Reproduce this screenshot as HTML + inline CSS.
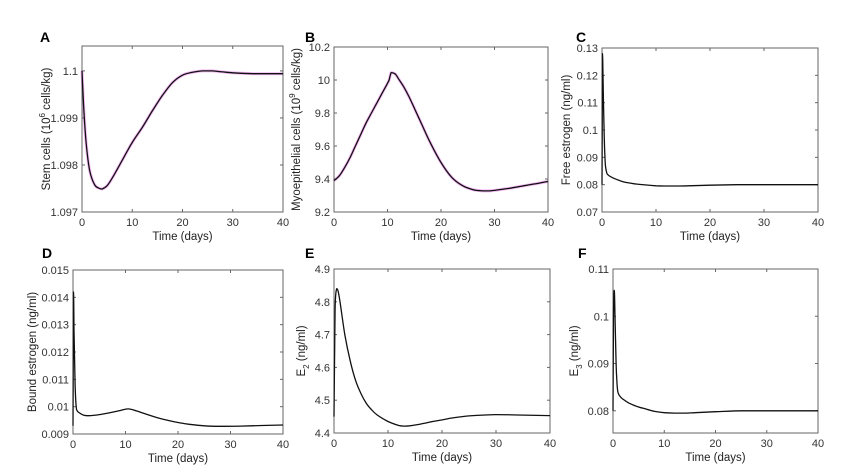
<!DOCTYPE html>
<html><head><meta charset="utf-8">
<style>
body{margin:0;background:#fff;}
svg{display:block;font-family:"Liberation Sans",Arial,sans-serif;}
.tick{font-size:11px;fill:#333;}
.lab{font-size:11.5px;fill:#222;}
.let{font-size:14px;font-weight:bold;fill:#000;}
</style></head>
<body>
<svg id="fig" width="850" height="475" viewBox="0 0 850 475"></svg>
<script>
// ---- data ----
const timeTicks = [0,10,20,30,40];
const aTime = [0,0.3,0.8,1.5,2.5,3.5,4,5,6,8,10,12,14,16,18,20,22,24,26,28,30,34,40];
const aStem = [1.1,1.0993,1.0985,1.0979,1.09758,1.0975,1.09749,1.09756,1.09772,1.0981,1.09848,1.0988,1.09915,1.09948,1.09975,1.09991,1.09997,1.1,1.1,1.09998,1.09996,1.09994,1.09994];
const aTicks = [1.097,1.098,1.099,1.1];
const bTime = [0,1,2,3,4,5,6,7,8,9,10,10.3,10.7,11.5,12,13,14,15,16,18,20,22,24,26,28,29,30,32,34,36,38,40];
const bMyo = [9.39,9.42,9.47,9.53,9.6,9.67,9.74,9.8,9.86,9.92,9.98,10.0,10.045,10.035,10.01,9.96,9.9,9.83,9.76,9.62,9.5,9.41,9.36,9.335,9.328,9.328,9.331,9.34,9.35,9.362,9.373,9.385];
const bTicks = [9.2,9.4,9.6,9.8,10,10.2];
const cTime = [0,0.1,0.2,0.4,0.6,0.8,1,2,3,4,6,8,10,12,14,16,20,25,30,40];
const cFree = [0.08,0.128,0.118,0.098,0.088,0.085,0.0838,0.0825,0.0817,0.081,0.0803,0.0799,0.0796,0.0795,0.0795,0.0796,0.0798,0.08,0.08,0.08];
const cTicks = [0.07,0.08,0.09,0.1,0.11,0.12,0.13];
const dTime = [0,0.1,0.2,0.4,0.6,0.8,1,2,3,5,7,9,10.5,12,14,16,18,20,22,25,28,32,36,40];
const dBound = [0.0093,0.0142,0.0128,0.0108,0.01,0.00985,0.0098,0.00969,0.00967,0.00971,0.00978,0.00986,0.00992,0.00985,0.00972,0.0096,0.0095,0.00942,0.00936,0.0093,0.00928,0.00929,0.00931,0.00933];
const dTicks = [0.009,0.01,0.011,0.012,0.013,0.014,0.015];
const eTime = [0,0.2,0.5,0.8,1.2,2,3,4,5,6,7,8,10,12,13,14,16,18,20,22,25,28,30,34,40];
const eE2 = [4.45,4.78,4.84,4.83,4.79,4.7,4.62,4.56,4.52,4.49,4.47,4.455,4.435,4.423,4.421,4.422,4.427,4.434,4.44,4.446,4.452,4.455,4.456,4.455,4.453];
const eTicks = [4.4,4.5,4.6,4.7,4.8,4.9];
const fTime = [0,0.1,0.25,0.4,0.6,0.8,1,1.5,2,3,4,5,6,8,10,12,14,16,20,25,30,40];
const fE3 = [0.08,0.1,0.1055,0.1,0.09,0.0855,0.0838,0.0829,0.0824,0.0817,0.0812,0.0808,0.0805,0.0799,0.0796,0.0795,0.0795,0.0796,0.0798,0.08,0.08,0.08];
const fTicks = [0.08,0.09,0.1,0.11];

const NS='http://www.w3.org/2000/svg';
const svg=document.getElementById('fig');
function mk(tag,attrs,parent){const e=document.createElementNS(NS,tag);for(const k in attrs)e.setAttribute(k,attrs[k]);(parent||svg).appendChild(e);return e;}
function smooth(P){
  let d='M'+P[0][0].toFixed(1)+','+P[0][1].toFixed(1);
  for(let i=0;i<P.length-1;i++){
    const p0=P[i-1]||P[i],p1=P[i],p2=P[i+1],p3=P[i+2]||P[i+1];
    const dx=p2[0]-p1[0];
    let m1=(p2[1]-p0[1])/((p2[0]-p0[0])||1), m2=(p3[1]-p1[1])/((p3[0]-p1[0])||1);
    const s=(p2[1]-p1[1])/(dx||1);
    if(s*m1<=0)m1=0; if(s*m2<=0)m2=0;
    if(Math.abs(m1)>3*Math.abs(s))m1=3*s; if(Math.abs(m2)>3*Math.abs(s))m2=3*s;
    const c1=[p1[0]+dx/3,p1[1]+m1*dx/3],c2=[p2[0]-dx/3,p2[1]-m2*dx/3];
    d+=`C${c1[0].toFixed(1)},${c1[1].toFixed(1)} ${c2[0].toFixed(1)},${c2[1].toFixed(1)} ${p2[0].toFixed(1)},${p2[1].toFixed(1)}`;
  }
  return d;
}

function panel(cfg){
  const g=mk('g',{});
  
  
  const {x0,x1,y0,y1,ymin,ymax}=cfg;
  const sx=t=>x0+(t-0)/40*(x1-x0);
  const sy=v=>y1-(v-ymin)/(ymax-ymin)*(y1-y0);
  const P=cfg.xs.map((t,i)=>[sx(t),sy(cfg.ys[i])]);
  if(cfg.band){
    const b=mk('path',{d:smooth(P),fill:'none',stroke:'#f4b8f4','stroke-width':cfg.band*2,'stroke-linejoin':'round'},g);
    
    
  }
  const fr=mk('rect',{x:x0,y:y0,width:x1-x0,height:y1-y0,fill:'none',stroke:'#666','stroke-width':1},g);
  
  
  timeTicks.forEach(t=>{
    mk('line',{x1:sx(t),x2:sx(t),y1:y1,y2:y1-3,stroke:'#666'},g);
    mk('line',{x1:sx(t),x2:sx(t),y1:y0,y2:y0+3,stroke:'#666'},g);
    const tx=mk('text',{x:sx(t),y:y1+14,'text-anchor':'middle',class:'tick'},g);
    tx.textContent=t;
    
    
  });
  cfg.ticks.forEach(v=>{
    mk('line',{x1:x0,x2:x0+3,y1:sy(v),y2:sy(v),stroke:'#666'},g);
    mk('line',{x1:x1,x2:x1-3,y1:sy(v),y2:sy(v),stroke:'#666'},g);
    const tx=mk('text',{x:x0-4,y:sy(v)+4,'text-anchor':'end',class:'tick'},g);
    tx.textContent=v;
    
    
  });
  const ln=mk('path',{d:smooth(P),fill:'none',stroke:'#111','stroke-width':1.3,'stroke-linejoin':'round'},g);
  
  
  const xl=mk('text',{x:(x0+x1)/2,y:y1+28,'text-anchor':'middle',class:'lab'},g);
  xl.textContent='Time (days)';
  
  
  const yl=mk('text',{x:0,y:0,'text-anchor':'middle',class:'lab',transform:`translate(${cfg.ylx},${(y0+y1)/2}) rotate(-90)`},g);
  yl.innerHTML=cfg.ylab;
  
  
  const lt=mk('text',{x:cfg.lx,y:cfg.ly,class:'let'},g);
  lt.textContent=cfg.id;
  
  
}
panel({id:'A',x0:82,x1:283,y0:46,y1:212,ymin:1.097,ymax:1.10053,ticks:aTicks,xs:aTime,ys:aStem,band:1.5,ylx:50,lx:40,ly:42,
  ylab:'Stem cells (10<tspan dy="-5" font-size="8">6</tspan><tspan dy="5"> cells/kg)</tspan>'});
panel({id:'B',x0:334,x1:548,y0:47,y1:212,ymin:9.2,ymax:10.2,ticks:bTicks,xs:bTime,ys:bMyo,band:1.5,ylx:300,lx:305,ly:42,
  ylab:'Myoepithelial cells (10<tspan dy="-5" font-size="8">9</tspan><tspan dy="5"> cells/kg)</tspan>'});
panel({id:'C',x0:602,x1:818,y0:48,y1:212,ymin:0.07,ymax:0.13,ticks:cTicks,xs:cTime,ys:cFree,ylx:570,lx:576,ly:42,
  ylab:'Free estrogen (ng/ml)'});
panel({id:'D',x0:73,x1:283,y0:270,y1:434,ymin:0.009,ymax:0.015,ticks:dTicks,xs:dTime,ys:dBound,ylx:36,lx:42,ly:258,
  ylab:'Bound estrogen (ng/ml)'});
panel({id:'E',x0:334,x1:550,y0:269,y1:433,ymin:4.4,ymax:4.9,ticks:eTicks,xs:eTime,ys:eE2,ylx:305,lx:305,ly:258,
  ylab:'E<tspan dy="4" font-size="8">2</tspan><tspan dy="-4"> (ng/ml)</tspan>'});
panel({id:'F',x0:613,x1:818,y0:269,y1:433,ymin:0.0753,ymax:0.11,ticks:fTicks,xs:fTime,ys:fE3,ylx:578,lx:578,ly:258,
  ylab:'E<tspan dy="4" font-size="8">3</tspan><tspan dy="-4"> (ng/ml)</tspan>'});
</script>
</body></html>
